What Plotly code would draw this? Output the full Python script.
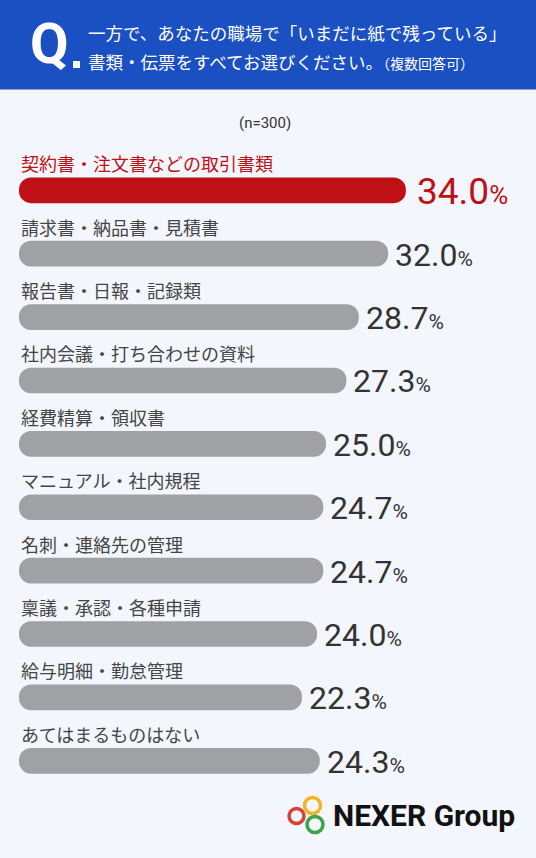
import plotly.graph_objects as go

# data (n=300)
categories = [
    "契約書・注文書などの取引書類",
    "請求書・納品書・見積書",
    "報告書・日報・記録類",
    "社内会議・打ち合わせの資料",
    "経費精算・領収書",
    "マニュアル・社内規程",
    "名刺・連絡先の管理",
    "稟議・承認・各種申請",
    "給与明細・勤怠管理",
    "あてはまるものはない",
]
values = [34.0, 32.0, 28.7, 27.3, 25.0, 24.7, 24.7, 24.0, 22.3, 24.3]

W, H = 536, 858
RED = "#bf1016"
GRAY = "#a0a1a5"
BLUE = "#1a50c2"
BG = "#f3f6fc"
BAR_START = -9.58  # bars in the original start left of zero


def px_x(p):
    return p / W


def px_y(p):
    return 1 - p / H


colors = [RED] + [GRAY] * (len(values) - 1)

fig = go.Figure()
fig.add_trace(go.Bar(
    y=categories,
    x=[v - BAR_START for v in values],
    base=BAR_START,
    orientation="h",
    marker=dict(color=colors, line=dict(width=0)),
    width=0.405,
    customdata=values,
    hovertemplate="%{y}: %{customdata}%<extra></extra>",
))

annotations = []
for i, (cat, v) in enumerate(zip(categories, values)):
    first = i == 0
    annotations.append(dict(
        xref="paper", yref="y", x=px_x(19), y=cat,
        text=cat, showarrow=False, xanchor="left", yanchor="middle",
        yshift=27,
        font=dict(family="Noto Sans CJK JP", size=18,
                  color=RED if first else "#454545"),
    ))
    big, small = (37, 26) if first else (32, 21)
    annotations.append(dict(
        xref="x", yref="y", x=v, y=cat,
        text=f"{v:.1f}<span style='font-size:{small}px'>%</span>",
        showarrow=False, xanchor="left", yanchor="middle",
        xshift=9 if first else 5, yshift=-1,
        font=dict(family="Roboto", size=big,
                  color=RED if first else "#333333"),
    ))

# header
annotations += [
    dict(xref="paper", yref="paper", x=px_x(28), y=px_y(44),
         text="<b>Q</b>", showarrow=False, xanchor="left", yanchor="middle",
         font=dict(family="Roboto", size=56, color="white")),
    dict(xref="paper", yref="paper", x=px_x(86), y=px_y(33),
         text="一方で、あなたの職場で「いまだに紙で残っている」",
         showarrow=False, xanchor="left", yanchor="middle",
         font=dict(family="Noto Sans CJK JP", size=17.5, color="white")),
    dict(xref="paper", yref="paper", x=px_x(86), y=px_y(62),
         text="書類・伝票をすべてお選びください。<span style='font-size:14px'>（複数回答可）</span>",
         showarrow=False, xanchor="left", yanchor="middle",
         font=dict(family="Noto Sans CJK JP", size=17.5, color="white")),
    dict(xref="paper", yref="paper", x=px_x(265), y=px_y(123),
         text="(n=300)", showarrow=False, xanchor="center", yanchor="middle",
         font=dict(family="Roboto", size=15, color="#333333")),
    dict(xref="paper", yref="paper", x=px_x(331), y=px_y(815),
         text="<b>NEXER Group</b>", showarrow=False, xanchor="left", yanchor="middle",
         font=dict(family="Roboto", size=30, color="#111111")),
]

shapes = [
    dict(type="rect", xref="paper", yref="paper", x0=0, x1=1, y0=px_y(89.5), y1=1,
         fillcolor=BLUE, line=dict(width=0), layer="below"),
    dict(type="rect", xref="paper", yref="paper", x0=px_x(73), x1=px_x(80),
         y0=px_y(68), y1=px_y(61), fillcolor="white", line=dict(width=0)),
]
# logo rings
for cx, cy, r, col in [(296.5, 816, 7.5, "#d9403a"), (312.5, 805.5, 8, "#f0b428"),
                       (315, 824.5, 8, "#3aa548")]:
    shapes.append(dict(type="circle", xref="paper", yref="paper",
                       x0=px_x(cx - r), x1=px_x(cx + r), y0=px_y(cy + r), y1=px_y(cy - r),
                       line=dict(color=col, width=3.5)))

fig.update_layout(
    width=W, height=H,
    margin=dict(l=0, r=0, t=0, b=0),
    paper_bgcolor=BG, plot_bgcolor=BG,
    showlegend=False,
    barcornerradius=12,
    xaxis=dict(domain=[0, 1], range=[-11.72, 48.66], visible=False, fixedrange=True),
    yaxis=dict(domain=[px_y(792.5), px_y(158.6)], range=[len(categories) - 0.5, -0.5],
               visible=False, type="category",
               categoryorder="array", categoryarray=categories, fixedrange=True),
    annotations=annotations,
    shapes=shapes,
)

fig.write_html("out.html", config={"displayModeBar": False},
               post_script="document.body.style.margin='0';")
